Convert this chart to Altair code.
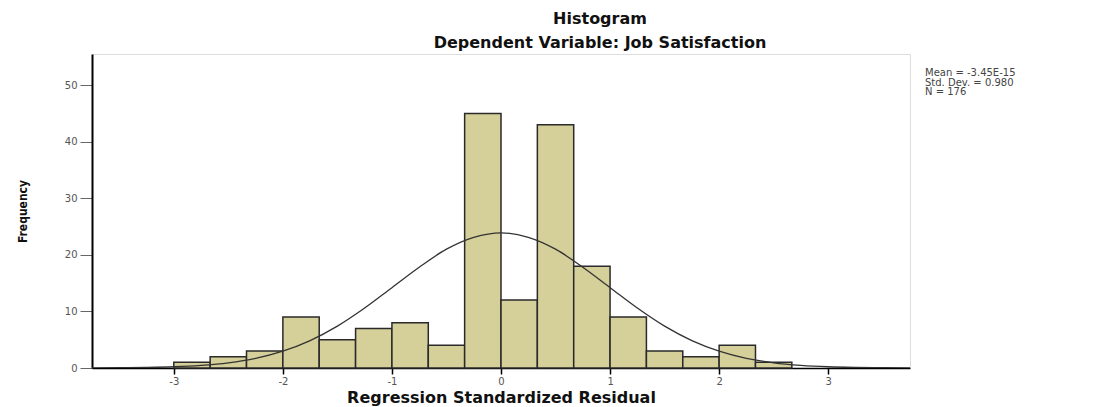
import altair as alt
import pandas as pd

# Histogram bins (lower edge, upper edge) and counts
bin_start = [-3.0, -2.6667, -2.3333, -2.0, -1.6667, -1.3333, -1.0, -0.6667, -0.3333,
             0.0, 0.3333, 0.6667, 1.0, 1.3333, 1.6667, 2.0, 2.3333]
bin_end = [-2.6667, -2.3333, -2.0, -1.6667, -1.3333, -1.0, -0.6667, -0.3333, 0.0,
           0.3333, 0.6667, 1.0, 1.3333, 1.6667, 2.0, 2.3333, 2.6667]
counts = [1, 2, 3, 9, 5, 7, 8, 4, 45, 12, 43, 18, 9, 3, 2, 4, 1]

# Normal curve
curve_x = [-3.75, -3.5, -3.25, -3.0, -2.75, -2.5, -2.25, -2.0, -1.75, -1.5, -1.25, -1.0,
           -0.75, -0.5, -0.25, 0.0, 0.25, 0.5, 0.75, 1.0, 1.25, 1.5, 1.75, 2.0, 2.25,
           2.5, 2.75, 3.0, 3.25, 3.5, 3.75]
curve_y = [0.02, 0.04, 0.10, 0.22, 0.47, 0.92, 1.71, 2.98, 4.85, 7.4, 10.6, 14.2,
           17.8, 21.0, 23.1, 23.9, 23.1, 21.0, 17.8, 14.2, 10.6, 7.4, 4.85, 2.98, 1.71,
           0.92, 0.47, 0.22, 0.10, 0.04, 0.02]

stats_lines = ["Mean = -3.45E-15", "Std. Dev. = 0.980", "N = 176"]

bars_df = pd.DataFrame({"start": bin_start, "end": bin_end, "count": counts})
curve_df = pd.DataFrame({"x": curve_x, "y": curve_y})

xscale = alt.Scale(domain=[-3.75, 3.75], nice=False, zero=False)
yscale = alt.Scale(domain=[0, 55.5], nice=False)

xaxis = alt.Axis(values=[-3, -2, -1, 0, 1, 2, 3], title="Regression Standardized Residual",
                 grid=False, domainColor="#000000", domainWidth=1.5, tickColor="#000000",
                 tickWidth=1.5, tickSize=6, labelPadding=2, labelColor="#555555",
                 labelFont="DejaVu Sans", labelFontSize=10, titleFont="DejaVu Sans",
                 titleFontSize=16, titleFontWeight="bold", titlePadding=3,
                 titleColor="#111111", labelExpr="replace(format(datum.value, 'd'), '−', '-')")
yaxis = alt.Axis(values=[0, 10, 20, 30, 40, 50], title="Frequency", grid=False,
                 domainColor="#000000", domainWidth=2, tickColor="#666666", tickSize=12,
                 labelPadding=3, labelColor="#555555", labelFont="DejaVu Sans",
                 labelFontSize=10, titleFont="DejaVu Sans Condensed, Liberation Sans",
                 titleFontSize=12, titleFontWeight="bold", titleColor="#111111",
                 titleX=-70, titleY=157, titleAngle=270, titleBaseline="middle",
                 titleAlign="center")

bars = alt.Chart(bars_df).mark_rect(color="#D5CF99", stroke="#2a2a2a", strokeWidth=1.5).encode(
    x=alt.X("start:Q", scale=xscale, axis=xaxis),
    x2="end:Q",
    y=alt.Y("count:Q", scale=yscale, axis=yaxis),
    y2=alt.datum(0),
)

curve = alt.Chart(curve_df).mark_line(color="#333333", strokeWidth=1.3, interpolate="monotone",
                                      clip=True).encode(
    x=alt.X("x:Q", scale=xscale),
    y=alt.Y("y:Q", scale=yscale),
)

stats = alt.Chart(pd.DataFrame({"t": ["\n".join(stats_lines)]})).mark_text(
    align="left", baseline="top", font="DejaVu Sans", fontSize=10, lineHeight=9.5,
    color="#444444", lineBreak="\n"
).encode(text="t:N", x=alt.value(833), y=alt.value(14))

chart = alt.layer(bars, curve, stats).properties(
    width=818, height=314,
    title=alt.TitleParams(text="Histogram", subtitle="Dependent Variable: Job Satisfaction",
                          anchor="middle", dx=99, font="DejaVu Sans", fontSize=16,
                          fontWeight="bold", subtitleFont="DejaVu Sans", subtitleFontSize=16,
                          subtitleFontWeight="bold", subtitleColor="#111111",
                          color="#111111", offset=3, subtitlePadding=8),
    autosize=alt.AutoSizeParams(type="none"),
    padding={"left": 92, "top": 54, "right": 185, "bottom": 39},
).configure_view(fill="#F0F0F0", stroke="#888888", strokeWidth=1.5).configure(background="white")

chart.save("out.html", embed_options={"renderer": "svg", "actions": False})
